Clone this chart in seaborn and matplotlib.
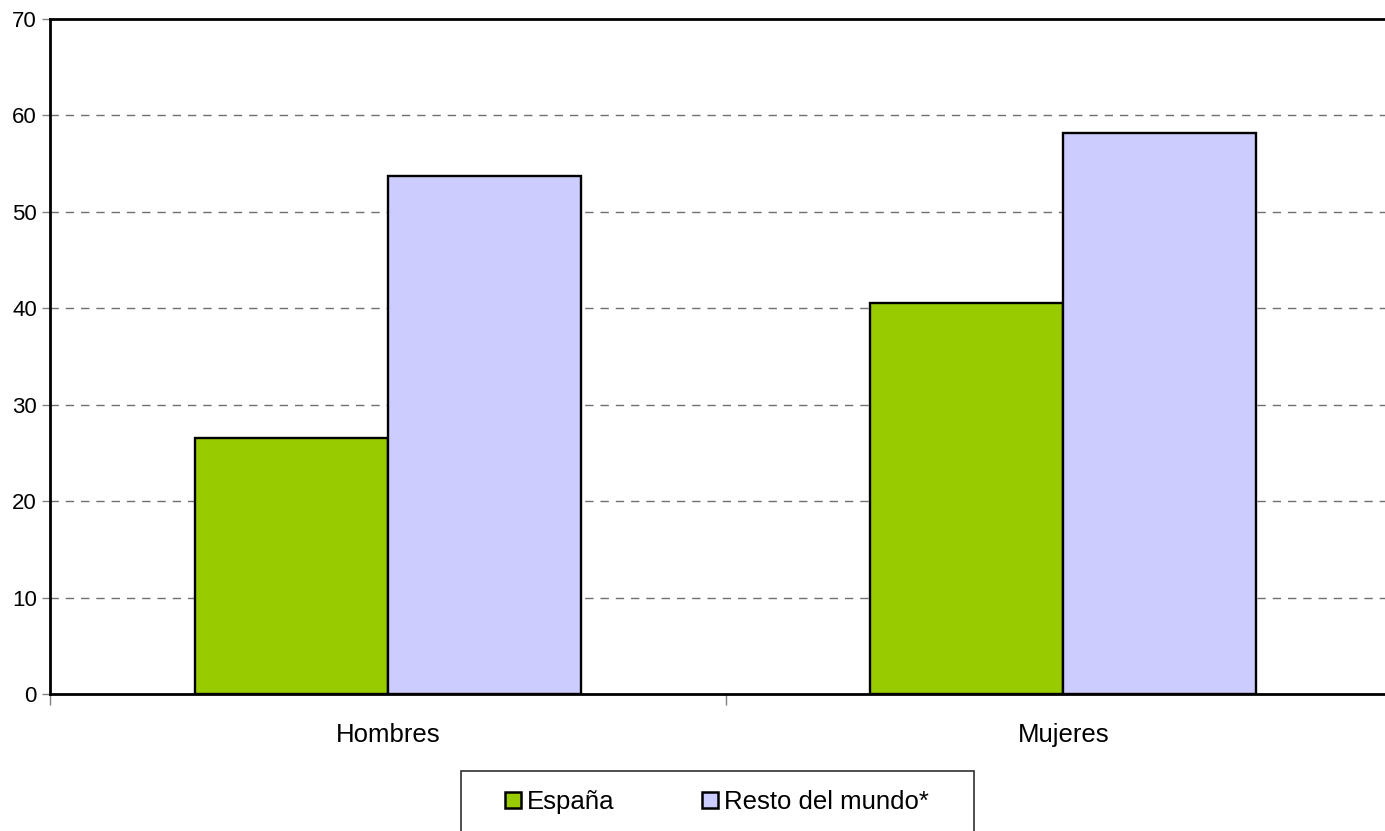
import pandas as pd
import matplotlib
matplotlib.use("Agg")
import matplotlib.pyplot as plt
from matplotlib.patches import Rectangle
import seaborn as sns

# ==============================
# Data
# ==============================

categorias = ["Hombres", "Mujeres"]
espana = [26.6, 40.5]
resto_mundo = [53.7, 58.2]
series = ["España", "Resto del mundo*"]
colores = ["#99CC00", "#CCCCFF"]

df = pd.DataFrame({
    "grupo": categorias * 2,
    "serie": [series[0]] * 2 + [series[1]] * 2,
    "valor": espana + resto_mundo,
})

# ==============================
# Plot
# ==============================

sns.set_style("white")
plt.rcParams['font.family'] = ['Liberation Sans', 'DejaVu Sans']
plt.rcParams['text.color'] = 'black'
plt.rcParams['xtick.labelcolor'] = 'black'
plt.rcParams['ytick.labelcolor'] = 'black'

W, H = 1385, 831
fig = plt.figure(figsize=(W / 100, H / 100), dpi=100)
ax = fig.add_axes([50 / W, 1 - 694 / H, (1401 - 50) / W, (694 - 19) / H])

sns.barplot(data=df, x="grupo", y="valor", hue="serie", order=categorias,
            hue_order=series, palette=colores, width=0.571, gap=0,
            edgecolor="black", linewidth=1.7, saturation=1, ax=ax, zorder=3)

ax.set_xlim(-0.5, 1.5)
ax.set_ylim(0, 70)
ax.set_yticks(range(0, 71, 10))
ax.set_xlabel("")
ax.set_ylabel("")

# gridlines
for y in range(10, 70, 10):
    ax.axhline(y, color="#707070", linestyle=(0, (6, 5)), linewidth=1.0, zorder=1)

for side in ["left", "top", "bottom"]:
    ax.spines[side].set_color("black")
    ax.spines[side].set_linewidth(2)
ax.spines["right"].set_visible(False)

# category ticks between groups
ax.set_xticks([0, 1])
ax.set_xticklabels(categorias, fontsize=18.5)
ax.set_xticks([-0.5, 0.5, 1.5], minor=True)
ax.tick_params(axis="x", which="major", length=0, pad=21)
ax.tick_params(axis="x", which="minor", length=8, color="#808080", width=1, direction="out")
ax.tick_params(axis="y", length=6, color="#808080", width=1, direction="out",
               labelsize=16, pad=3.5)
ax.tick_params(left=True, bottom=True, which="both")

# legend
ax.get_legend().remove()
handles, labels = ax.get_legend_handles_labels()
fig.patches.append(Rectangle((461 / W, -0.05), (974 - 461) / W, 1.05 - 771 / H,
                             transform=fig.transFigure, facecolor="white",
                             edgecolor="#303030", linewidth=1.2))
leg = fig.legend(handles, labels, loc="center", ncol=2,
                 bbox_to_anchor=(717 / W, 1 - 802 / H), fontsize=18.5,
                 frameon=False, handlelength=0.62, handleheight=0.62,
                 handletextpad=0.23, columnspacing=3.4, borderpad=0,
                 borderaxespad=0)
for h in leg.legend_handles:
    h.set_edgecolor("black")
    h.set_linewidth(1.8)

fig.savefig("out.png", dpi=100)
